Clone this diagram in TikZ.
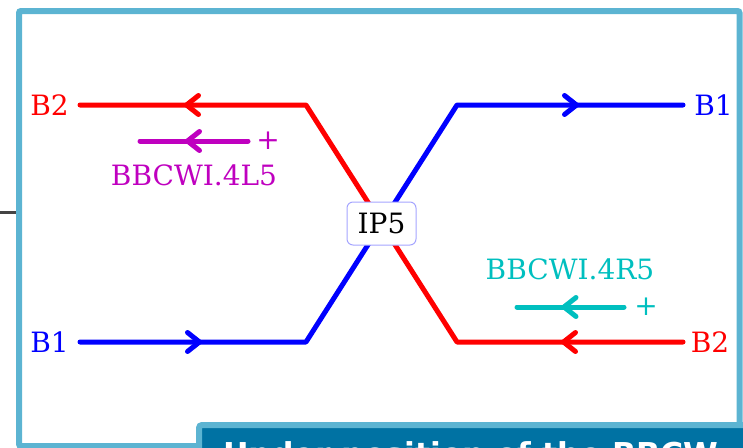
\documentclass[tikz,border=0pt]{standalone}
\usepackage{fontspec}
\setmainfont{DejaVu Serif}
\newfontfamily\headfont{DejaVu Sans}
\usetikzlibrary{arrows.meta,decorations.markings}
\definecolor{frameblue}{RGB}{92,180,210}
\definecolor{boxteal}{RGB}{0,114,163}
\definecolor{ipborder}{RGB}{165,165,255}
\definecolor{bbmag}{RGB}{191,0,191}
\definecolor{bbcyan}{RGB}{0,191,191}
\definecolor{darkline}{RGB}{68,68,68}
\tikzset{
  beam/.style={line width=5pt, line cap=round, line join=round},
  midarrow/.style={postaction=decorate, decoration={markings,
    mark=at position 0.5 with {\arrow[xshift=9pt]{Straight Barb[length=12pt,width=19pt,round,line width=5pt]}}}},
  lbl/.style={font=\fontsize{28}{32}\selectfont, inner sep=0pt},
}
\begin{document}
\begin{tikzpicture}[x=1pt,y=-1pt]
\useasboundingbox (0,0) rectangle (743,447);
\begin{scope}
\clip (0,0) rectangle (743,447);
% frame
\draw[frameblue, line width=6pt, rounded corners=2pt] (19,11) rectangle (739.5,446);
\coordinate (dl0) at (0,212);
\coordinate (dl1) at (16,212);
\draw[darkline, line width=3pt] (dl0) -- (dl1);
% bottom title box
\draw[frameblue, fill=boxteal, line width=6pt, rounded corners=3pt] (199,425) rectangle (800,520);
\node[anchor=base west, inner sep=0pt, text=white, font=\headfont\bfseries\fontsize{31.5}{36}\selectfont] (title) at (223,465) {Under position of the BBCW};
\end{scope}
% beam coordinates
\coordinate (tl) at (80,105);
\coordinate (tm) at (306,105);
\coordinate (tr) at (683,105);
\coordinate (trm) at (457,105);
\coordinate (bl) at (80,342);
\coordinate (bm) at (306,342);
\coordinate (br) at (683,342);
\coordinate (brm) at (457,342);
% B2 red
\draw[beam, red] (tl) -- (tm) -- (brm) -- (br);
\path[beam, red, midarrow] (tm) -- (tl);
\path[beam, red, midarrow] (br) -- (brm);
% B1 blue
\draw[beam, blue] (bl) -- (bm) -- (trm) -- (tr);
\path[beam, blue, midarrow] (bl) -- (bm);
\path[beam, blue, midarrow] (trm) -- (tr);
% IP5
\node[draw=ipborder, fill=white, line width=1pt, rounded corners=6pt, minimum width=69pt, minimum height=43pt, font=\fontsize{28}{32}\selectfont, inner sep=0pt] (ip) at (381.5,223.5) {IP5};
% beam labels
\node[lbl, text=red] (b2l) at (49.5,105) {B2};
\node[lbl, text=blue] (b1r) at (713.5,105) {B1};
\node[lbl, text=blue] (b1l) at (49.5,342) {B1};
\node[lbl, text=red] (b2r) at (710,342) {B2};
% BBCWI.4L5
\coordinate (ma) at (248,141);
\coordinate (mb) at (140,141);
\draw[beam, bbmag, midarrow] (ma) -- (mb);
\node[lbl, text=bbmag] (mplus) at (268,141) {+};
\node[lbl, text=bbmag] (mlab) at (194,175.5) {BBCWI.4L5};
% BBCWI.4R5
\coordinate (ca) at (624,307);
\coordinate (cb) at (517,307);
\draw[beam, bbcyan, midarrow] (ca) -- (cb);
\node[lbl, text=bbcyan] (cplus) at (646,307) {+};
\node[lbl, text=bbcyan] (clab) at (570,269) {BBCWI.4R5};
\end{tikzpicture}
\end{document}
